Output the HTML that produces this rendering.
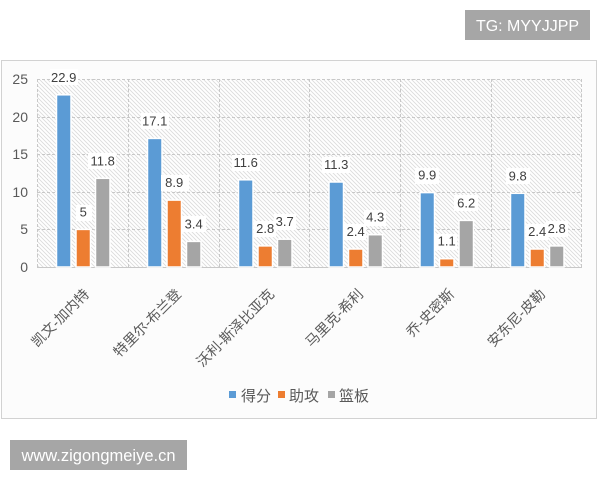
<!DOCTYPE html>
<html><head><meta charset="utf-8"><style>
html,body{margin:0;padding:0;background:#fff;}
svg{display:block;}
text{font-family:"Liberation Sans","Noto Sans CJK SC",sans-serif;}
</style></head><body>
<svg width="600" height="480" viewBox="0 0 600 480" xmlns="http://www.w3.org/2000/svg">
<defs>
<pattern id="h" patternUnits="userSpaceOnUse" width="4" height="4">
<rect width="4" height="4" fill="#ffffff"/>
<path d="M-1,-1 L5,5 M-1,3 L1,5 M3,-1 L5,1" stroke="#dcdcdc" stroke-width="0.9"/>
</pattern>
</defs>
<rect x="0" y="0" width="600" height="480" fill="#fff"/>
<rect x="465" y="10" width="125" height="30" fill="#a6a6a6"/>
<text x="527.5" y="31" font-size="16" fill="#fff" text-anchor="middle">TG: MYYJJPP</text>
<rect x="1.5" y="60.5" width="595" height="358" fill="#fcfcfc" stroke="#d2d2d2" stroke-width="1"/>
<rect x="37" y="79" width="545" height="188" fill="url(#h)"/>
<g stroke="#c8c8c8" stroke-width="1" stroke-dasharray="3,2" fill="none">
<line x1="37" y1="79.5" x2="582" y2="79.5"/>
<line x1="37" y1="117.5" x2="582" y2="117.5"/>
<line x1="37" y1="154.5" x2="582" y2="154.5"/>
<line x1="37" y1="192.5" x2="582" y2="192.5"/>
<line x1="37" y1="229.5" x2="582" y2="229.5"/>
<line x1="37.5" y1="79" x2="37.5" y2="267"/>
<line x1="128.5" y1="79" x2="128.5" y2="267"/>
<line x1="219.5" y1="79" x2="219.5" y2="267"/>
<line x1="309.5" y1="79" x2="309.5" y2="267"/>
<line x1="400.5" y1="79" x2="400.5" y2="267"/>
<line x1="491.5" y1="79" x2="491.5" y2="267"/>
<line x1="581.5" y1="79" x2="581.5" y2="267"/>
</g>
<line x1="37" y1="267.5" x2="582" y2="267.5" stroke="#c8c8c8" stroke-width="1"/>
<g font-size="14" fill="#595959" text-anchor="end">
<text x="28" y="84">25</text>
<text x="28" y="122">20</text>
<text x="28" y="159">15</text>
<text x="28" y="197">10</text>
<text x="28" y="234">5</text>
<text x="28" y="272">0</text>
</g>
<g stroke="#ffffff" stroke-width="1.5">
<rect x="56.5" y="94.8" width="14.5" height="172.2" fill="#5b9bd5"/>
<rect x="76" y="229.4" width="14.5" height="37.6" fill="#ed7d31"/>
<rect x="95.5" y="178.3" width="14.5" height="88.7" fill="#a5a5a5"/>
<rect x="147.5" y="138.4" width="14.5" height="128.6" fill="#5b9bd5"/>
<rect x="167" y="200.1" width="14.5" height="66.9" fill="#ed7d31"/>
<rect x="186.5" y="241.4" width="14.5" height="25.6" fill="#a5a5a5"/>
<rect x="238.5" y="179.8" width="14.5" height="87.2" fill="#5b9bd5"/>
<rect x="258" y="245.9" width="14.5" height="21.1" fill="#ed7d31"/>
<rect x="277.5" y="239.2" width="14.5" height="27.8" fill="#a5a5a5"/>
<rect x="329" y="182" width="14.5" height="85" fill="#5b9bd5"/>
<rect x="348.5" y="249" width="14.5" height="18" fill="#ed7d31"/>
<rect x="368" y="234.7" width="14.5" height="32.3" fill="#a5a5a5"/>
<rect x="420" y="192.6" width="14.5" height="74.4" fill="#5b9bd5"/>
<rect x="439.5" y="258.7" width="14.5" height="8.3" fill="#ed7d31"/>
<rect x="459" y="220.4" width="14.5" height="46.6" fill="#a5a5a5"/>
<rect x="510.5" y="193.3" width="14.5" height="73.7" fill="#5b9bd5"/>
<rect x="530" y="249" width="14.5" height="18" fill="#ed7d31"/>
<rect x="549.5" y="245.9" width="14.5" height="21.1" fill="#a5a5a5"/>
</g>
<g fill="#ffffff">
<rect x="50" y="69" width="28" height="16"/>
<rect x="76" y="205" width="16" height="16"/>
<rect x="88" y="153" width="28" height="16"/>
<rect x="141" y="113" width="28" height="16"/>
<rect x="161" y="175" width="28" height="16"/>
<rect x="182" y="216" width="24" height="16"/>
<rect x="232" y="155" width="28" height="16"/>
<rect x="254" y="221" width="22" height="16"/>
<rect x="274" y="214" width="22" height="16"/>
<rect x="322" y="157" width="28" height="16"/>
<rect x="344" y="224" width="22" height="16"/>
<rect x="364" y="210" width="22" height="16"/>
<rect x="415" y="168" width="24" height="16"/>
<rect x="435" y="234" width="22" height="16"/>
<rect x="454" y="195" width="24" height="16"/>
<rect x="506" y="168" width="24" height="16"/>
<rect x="526" y="224" width="22" height="16"/>
<rect x="546" y="221" width="22" height="16"/>
</g>
<g font-size="13" fill="#404040" text-anchor="middle">
<text x="63.7" y="81.8">22.9</text>
<text x="83.2" y="216.4">5</text>
<text x="102.7" y="165.3">11.8</text>
<text x="154.7" y="125.4">17.1</text>
<text x="174.2" y="187.1">8.9</text>
<text x="193.7" y="228.4">3.4</text>
<text x="245.7" y="166.8">11.6</text>
<text x="265.2" y="232.9">2.8</text>
<text x="284.7" y="226.2">3.7</text>
<text x="336.2" y="169">11.3</text>
<text x="355.7" y="236">2.4</text>
<text x="375.2" y="221.7">4.3</text>
<text x="427.2" y="179.6">9.9</text>
<text x="446.7" y="245.7">1.1</text>
<text x="466.2" y="207.4">6.2</text>
<text x="517.7" y="180.3">9.8</text>
<text x="537.2" y="236">2.4</text>
<text x="556.7" y="232.9">2.8</text>
</g>
<g font-size="14" fill="#595959" text-anchor="end">
<text transform="translate(90,295) rotate(-45)">凯文-加内特</text>
<text transform="translate(182,295) rotate(-45)">特里尔-布兰登</text>
<text transform="translate(275,295) rotate(-45)">沃利-斯泽比亚克</text>
<text transform="translate(364,295) rotate(-45)">马里克-希利</text>
<text transform="translate(455,295) rotate(-45)">乔-史密斯</text>
<text transform="translate(546,295) rotate(-45)">安东尼-皮勒</text>
</g>
<rect x="229" y="391" width="7" height="7" fill="#5b9bd5"/>
<text x="241" y="401" font-size="15" fill="#595959">得分</text>
<rect x="278" y="391" width="7" height="7" fill="#ed7d31"/>
<text x="289" y="401" font-size="15" fill="#595959">助攻</text>
<rect x="328" y="391" width="7" height="7" fill="#a5a5a5"/>
<text x="339" y="401" font-size="15" fill="#595959">篮板</text>
<rect x="10" y="440" width="177" height="30" fill="#a6a6a6"/>
<text x="98.5" y="461" font-size="16.5" fill="#fff" text-anchor="middle">www.zigongmeiye.cn</text>
</svg>
</body></html>
